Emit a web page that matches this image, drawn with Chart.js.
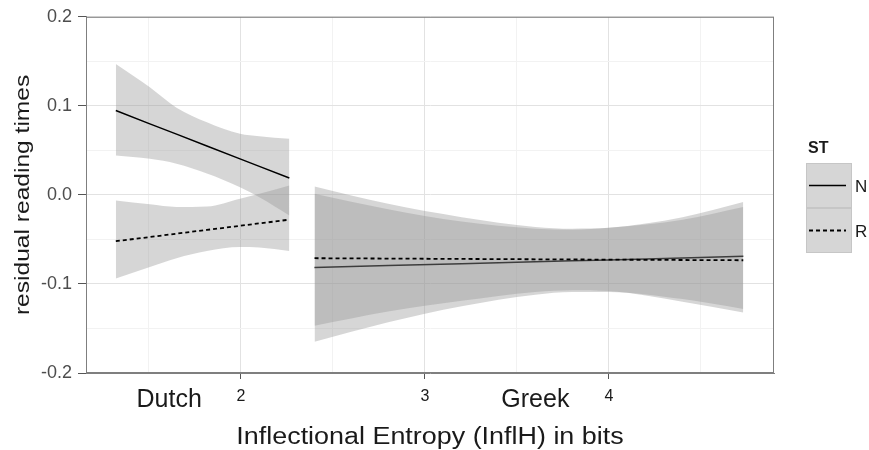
<!DOCTYPE html>
<html>
<head>
<meta charset="utf-8">
<script src="https://cdn.jsdelivr.net/npm/chart.js@4.4.0/dist/chart.umd.min.js"></script>
<style>
  html, body { margin: 0; padding: 0; background: #fff; }
  #wrap { width: 869px; height: 450px; }
</style>
</head>
<body>
<div id="wrap"><canvas id="resid" width="869" height="450"></canvas></div>
<script>
// smooth fits of residual reading times, per language and ST
const seriesNames = ["N", "R"];
const groupNames = ["Dutch", "Greek"];
const groupLabelX = [1.61, 3.6];
const xTitle = "Inflectional Entropy (InflH) in bits";
const yTitle = "residual reading times";

const dutchX = [1.32, 1.505, 1.65, 1.815, 1.995, 2.10, 2.263];
const dutchN = [0.0947, 0.0798, 0.0682, 0.0549, 0.0404, 0.0320, 0.0189];
const dutchNUpper = [0.147, 0.121, 0.098, 0.0816, 0.0686, 0.066, 0.063];
const dutchNLower = [0.0443, 0.0405, 0.035, 0.024, 0.0087, -0.0025, -0.023];
const dutchR = [-0.052, -0.0473, -0.0435, -0.0393, -0.0347, -0.0320, -0.0278];
const dutchRUpper = [-0.0062, -0.0106, -0.0135, -0.013, -0.0043, 0.0013, 0.0106];
const dutchRLower = [-0.094, -0.081, -0.071, -0.063, -0.0585, -0.059, -0.063];

const greekX = [2.40, 2.8, 3.2, 3.6, 3.8, 4.0, 4.4, 4.73];
const greekN = [-0.0816, -0.0794, -0.0773, -0.0751, -0.0740, -0.0730, -0.0708, -0.0690];
const greekNUpper = [0.0013, -0.016, -0.030, -0.038, -0.039, -0.037, -0.025, -0.008];
const greekNLower = [-0.165, -0.143, -0.125, -0.112, -0.109, -0.109, -0.117, -0.128];
const greekR = [-0.0711, -0.0715, -0.0719, -0.0723, -0.0725, -0.0727, -0.0731, -0.0734];
const greekRUpper = [0.0095, -0.010, -0.025, -0.036, -0.038, -0.037, -0.028, -0.0137];
const greekRLower = [-0.147, -0.131, -0.119, -0.109, -0.107, -0.108, -0.120, -0.132];

const yMajor = [-0.2, -0.1, 0, 0.1, 0.2];
const yLabels = ["-0.2", "-0.1", "0.0", "0.1", "0.2"];
const yMinor = [-0.15, -0.05, 0.05, 0.15];
const xMajor = [2, 3, 4];
const xLabels = ["2", "3", "4"];
const xMinor = [1.5, 2.5, 3.5, 4.5];

const FONT = "'Liberation Sans', Arial, sans-serif";
const ribbonFill = "rgba(153,153,153,0.4)";

const pts = (xs, ys) => xs.map((x, i) => ({ x: x, y: ys[i] }));

// ribbon = upper line filled down to the next dataset (lower line)
function ribbon(xs, up, lo, order) {
  return [
    { data: pts(xs, up), fill: "+1", backgroundColor: ribbonFill, borderWidth: 0,
      pointRadius: 0, cubicInterpolationMode: "monotone", order: order },
    { data: pts(xs, lo), fill: false, borderWidth: 0, pointRadius: 0,
      cubicInterpolationMode: "monotone", order: order }
  ];
}
function fitLine(xs, ys, dashed, order) {
  return { data: pts(xs, ys), fill: false, borderColor: "#000", borderWidth: dashed ? 1.8 : 1.5,
    borderDash: dashed ? [4, 3] : [], pointRadius: 0, order: order };
}

const datasets = [
  ...ribbon(dutchX, dutchNUpper, dutchNLower, 4),
  fitLine(dutchX, dutchN, false, 3),
  ...ribbon(dutchX, dutchRUpper, dutchRLower, 2),
  fitLine(dutchX, dutchR, true, 1),
  ...ribbon(greekX, greekNUpper, greekNLower, 4),
  fitLine(greekX, greekN, false, 3),
  ...ribbon(greekX, greekRUpper, greekRLower, 2),
  fitLine(greekX, greekR, true, 1)
];

const isMajor = (list, v) => list.some(m => Math.abs(m - v) < 1e-9);

// panel border, axis titles (the source font runs wide), group labels, ST legend
const decor = {
  id: "decor",
  afterDraw(chart) {
    const ctx = chart.ctx;
    const a = chart.chartArea;
    const xs = chart.scales.x;
    ctx.save();
    ctx.strokeStyle = "#7f7f7f";
    ctx.lineWidth = 1;
    ctx.strokeRect(a.left + 0.5, a.top + 0.5, a.right - a.left - 1, a.bottom - a.top - 1);

    ctx.fillStyle = "#1a1a1a";
    ctx.textAlign = "center";
    ctx.textBaseline = "alphabetic";

    ctx.save();
    ctx.font = "23px " + FONT;
    ctx.translate((a.left + a.right) / 2, 444);
    ctx.scale(1.17, 1);
    ctx.fillText(xTitle, 0, 0);
    ctx.restore();

    ctx.save();
    ctx.font = "21px " + FONT;
    ctx.translate(29, (a.top + a.bottom) / 2);
    ctx.rotate(-Math.PI / 2);
    ctx.scale(1.17, 1);
    ctx.fillText(yTitle, 0, 0);
    ctx.restore();

    ctx.font = "25px " + FONT;
    groupNames.forEach((g, i) => {
      ctx.fillText(g, xs.getPixelForValue(groupLabelX[i]), 407);
    });

    // legend
    const lx = 806, ly = 163, kw = 46, kh = 45;
    ctx.textAlign = "left";
    ctx.font = "bold 16px " + FONT;
    ctx.fillText("ST", 808, 153);
    ctx.font = "17px " + FONT;
    seriesNames.forEach((s, i) => {
      const y0 = ly + i * kh;
      ctx.fillStyle = "#d6d6d6";
      ctx.fillRect(lx, y0, kw, kh);
      ctx.strokeStyle = "#c6c6c6";
      ctx.strokeRect(lx + 0.5, y0 + 0.5, kw - 1, kh - 1);
      ctx.strokeStyle = "#000";
      ctx.lineWidth = i === 0 ? 1.5 : 1.8;
      ctx.setLineDash(i === 0 ? [] : [4, 3]);
      ctx.beginPath();
      ctx.moveTo(lx + 3, y0 + 22.5);
      ctx.lineTo(lx + kw - 6, y0 + 22.5);
      ctx.stroke();
      ctx.setLineDash([]);
      ctx.lineWidth = 1;
      ctx.fillStyle = "#1a1a1a";
      ctx.fillText(s, 855, y0 + 29);
    });
    ctx.restore();
  }
};

new Chart(document.getElementById("resid").getContext("2d"), {
  type: "line",
  data: { datasets: datasets },
  plugins: [decor],
  options: {
    responsive: false,
    animation: false,
    layout: { padding: { left: 0, top: 16, right: 95, bottom: 0 } },
    plugins: {
      legend: { display: false },
      tooltip: { enabled: false },
      filler: { propagate: false }
    },
    scales: {
      x: {
        type: "linear",
        min: 1.158,
        max: 4.897,
        afterBuildTicks: s => { s.ticks = [...xMinor, ...xMajor].sort((a, b) => a - b).map(v => ({ value: v })); },
        afterFit: s => { s.height = 77; },
        ticks: {
          autoSkip: false,
          maxRotation: 0,
          padding: 8,
          color: "#1a1a1a",
          font: { family: FONT, size: 16 },
          callback: v => isMajor(xMajor, v) ? xLabels[xMajor.findIndex(m => Math.abs(m - v) < 1e-9)] : ""
        },
        grid: {
          color: c => isMajor(xMajor, c.tick.value) ? "#e2e2e2" : "#f2f2f2",
          tickColor: c => isMajor(xMajor, c.tick.value) ? "#555" : "rgba(0,0,0,0)",
          tickLength: 6
        },
        border: { display: true, color: "#7f7f7f" }
      },
      y: {
        min: -0.2,
        max: 0.2,
        afterBuildTicks: s => { s.ticks = [...yMinor, ...yMajor].sort((a, b) => a - b).map(v => ({ value: v })); },
        afterFit: s => { s.width = 86; },
        ticks: {
          padding: 6,
          color: "#4d4d4d",
          font: { family: FONT, size: 18 },
          callback: v => isMajor(yMajor, v) ? yLabels[yMajor.findIndex(m => Math.abs(m - v) < 1e-9)] : ""
        },
        grid: {
          color: c => isMajor(yMajor, c.tick.value) ? "#e2e2e2" : "#f2f2f2",
          tickColor: c => isMajor(yMajor, c.tick.value) ? "#555" : "rgba(0,0,0,0)",
          tickLength: 8
        },
        border: { display: true, color: "#7f7f7f" }
      }
    }
  }
});
</script>
</body>
</html>
